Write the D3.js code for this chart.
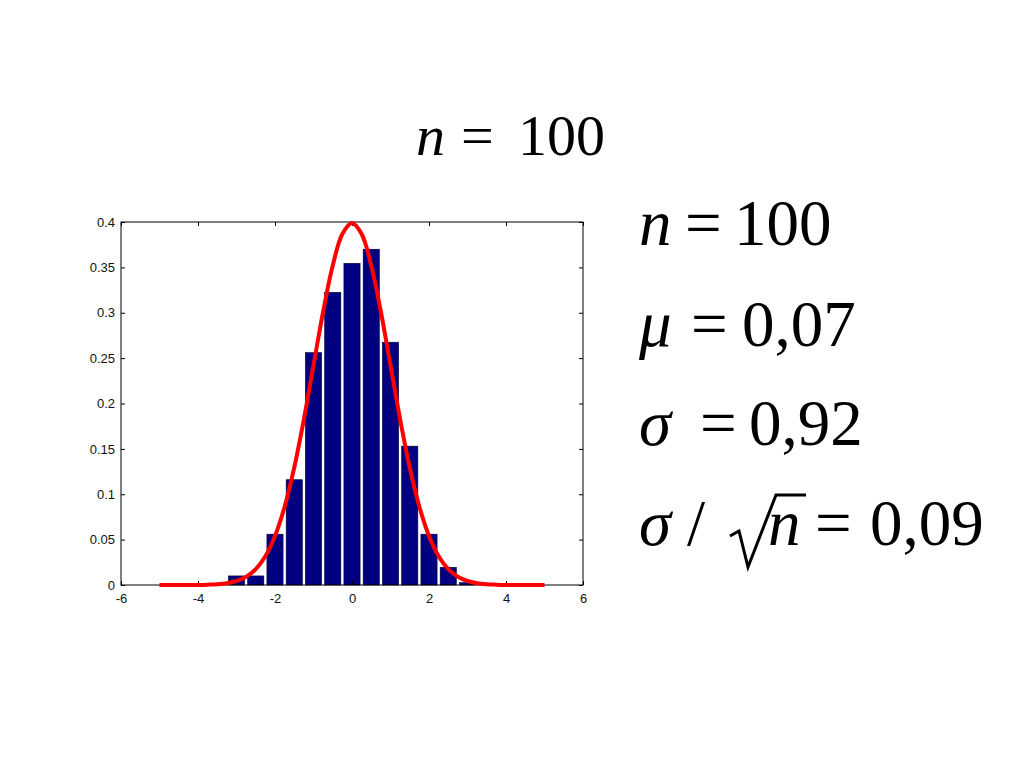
<!DOCTYPE html>
<html>
<head>
<meta charset="utf-8">
<script src="https://cdn.jsdelivr.net/npm/d3@7"></script>
<style>
  html, body { margin: 0; padding: 0; background: #fff; }
  svg { display: block; }
  .tick text { font-family: "Liberation Sans", Arial, sans-serif; }
</style>
</head>
<body>
<svg id="chart" width="1024" height="768"></svg>
<script>
// ---- data ----
const binCenters = [-3, -2.5, -2, -1.5, -1, -0.5, 0, 0.5, 1, 1.5, 2, 2.5, 3];
const binDensity = [0.010, 0.010, 0.056, 0.116, 0.256, 0.3225, 0.3545, 0.370, 0.2675, 0.153, 0.056, 0.0195, 0.0026];
const curveX = [-5, -4.75, -4.5, -4.25, -4, -3.75, -3.5, -3.25, -3, -2.75, -2.5, -2.25, -2, -1.75, -1.5, -1.25, -1, -0.75, -0.5, -0.25,
                0, 0.25, 0.5, 0.75, 1, 1.25, 1.5, 1.75, 2, 2.25, 2.5, 2.75, 3, 3.25, 3.5, 3.75, 4, 4.25, 4.5, 4.75, 5];
const curveY = [0.0000, 0.0000, 0.0000, 0.0000, 0.0001, 0.0004, 0.0009, 0.0020, 0.0044, 0.0091, 0.0175, 0.0317, 0.0540, 0.0863, 0.1295, 0.1826, 0.2420, 0.3011, 0.3521, 0.3867,
                0.3989, 0.3867, 0.3521, 0.3011, 0.2420, 0.1826, 0.1295, 0.0863, 0.0540, 0.0317, 0.0175, 0.0091, 0.0044, 0.0020, 0.0009, 0.0004, 0.0001, 0.0000, 0.0000, 0.0000, 0.0000];
const xTicks = [-6, -4, -2, 0, 2, 4, 6];
const yTicks = [0, 0.05, 0.1, 0.15, 0.2, 0.25, 0.3, 0.35, 0.4];
const binWidth = 0.5;
const titleText = { v: "n", eq: "=", num: "100" };
const statsLines = [
  { sym: "n", val: "100" },
  { sym: "μ", val: "0,07" },
  { sym: "σ", val: "0,92" },
  { sym: "σ", val: "0,09", sqrt: true }
];

// ---- layout ----
const svg = d3.select("#chart");
const L = 121, R = 583, T = 222, B = 585;
const x = d3.scaleLinear().domain([-6, 6]).range([L, R]);
const y = d3.scaleLinear().domain([0, 0.4]).range([B, T]);

// bars
const barFrac = 0.84;
svg.append("g").selectAll("rect").data(binCenters).join("rect")
  .attr("x", (d) => x(d - binWidth * barFrac / 2))
  .attr("width", (d) => x(d + binWidth * barFrac / 2) - x(d - binWidth * barFrac / 2))
  .attr("y", (d, i) => y(binDensity[i]))
  .attr("height", (d, i) => y(0) - y(binDensity[i]))
  .attr("fill", "#000080")
  .attr("stroke", "#000033")
  .attr("stroke-width", 0.6);

// axes (box with inward ticks)
const tickLen = 4;
const gx = svg.append("g").attr("transform", `translate(0,${B})`)
  .call(d3.axisBottom(x).tickValues(xTicks).tickSizeInner(-tickLen).tickSizeOuter(0).tickPadding(9).tickFormat((d) => String(d)));
const gxt = svg.append("g").attr("transform", `translate(0,${T})`)
  .call(d3.axisTop(x).tickValues(xTicks).tickSizeInner(-tickLen).tickSizeOuter(0).tickFormat(""));
const gy = svg.append("g").attr("transform", `translate(${L},0)`)
  .call(d3.axisLeft(y).tickValues(yTicks).tickSizeInner(-tickLen).tickSizeOuter(0).tickPadding(6).tickFormat((d) => d === 0 ? "0" : String(+d.toFixed(2))));
const gyr = svg.append("g").attr("transform", `translate(${R},0)`)
  .call(d3.axisRight(y).tickValues(yTicks).tickSizeInner(-tickLen).tickSizeOuter(0).tickFormat(""));
[gx, gxt, gy, gyr].forEach((g) => {
  g.select(".domain").remove();
  g.selectAll(".tick line").attr("stroke", "#000").attr("stroke-width", 1);
  g.selectAll(".tick text").attr("font-size", 13).attr("fill", "#111");
});
// box
svg.append("rect").attr("x", L).attr("y", T).attr("width", R - L).attr("height", B - T)
  .attr("fill", "none").attr("stroke", "#000").attr("stroke-width", 1);

// red curve
const line = d3.line().x((d) => x(d)).y((d, i) => y(curveY[i])).curve(d3.curveCatmullRom);
svg.append("path").datum(curveX).attr("d", line)
  .attr("fill", "none").attr("stroke", "#ff0000").attr("stroke-width", 4)
  .attr("stroke-linejoin", "round").attr("stroke-linecap", "butt");

// ---- texts ----
const serif = "Liberation Serif, Times New Roman, serif";
const title = svg.append("text").attr("y", 155).attr("font-family", serif).attr("font-size", 58).attr("fill", "#000");
title.append("tspan").attr("x", 416).attr("font-style", "italic").text(titleText.v);
title.append("tspan").attr("x", 461).text(titleText.eq);
title.append("tspan").attr("x", 518).text(titleText.num);

const fs = 65;
const baselines = [245, 346, 445, 545];
const eqXs = [685, 691, 700];
const valXs = [734, 742, 749];
statsLines.forEach((ln, i) => {
  const t = svg.append("text").attr("y", baselines[i]).attr("font-family", serif).attr("font-size", fs).attr("fill", "#000");
  if (!ln.sqrt) {
    t.append("tspan").attr("x", 639).attr("font-style", "italic").text(ln.sym);
    t.append("tspan").attr("x", eqXs[i]).text("=");
    t.append("tspan").attr("x", valXs[i]).text(ln.val);
  } else {
    t.append("tspan").attr("x", 639).attr("font-style", "italic").text(ln.sym);
    t.append("tspan").attr("x", 687).text("/");
    t.append("tspan").attr("x", 768).attr("font-style", "italic").text("n");
    t.append("tspan").attr("x", 815).text("=");
    t.append("tspan").attr("x", 870).text(ln.val);
    // radical sign
    svg.append("path")
      .attr("d", "M730,536 L739,531 L748,567 L776,495 L806,495")
      .attr("fill", "none").attr("stroke", "#000").attr("stroke-width", 3)
      .attr("stroke-linejoin", "miter");
  }
});
</script>
</body>
</html>
